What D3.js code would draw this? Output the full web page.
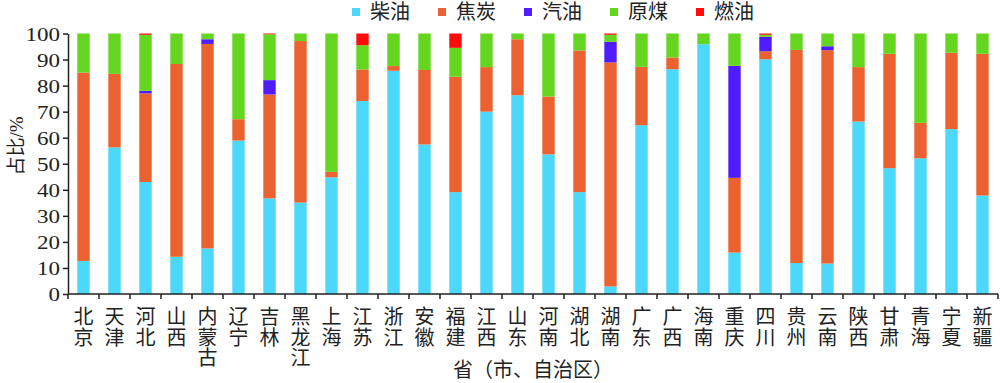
<!DOCTYPE html>
<html>
<head>
<meta charset="utf-8">
<script src="https://cdn.jsdelivr.net/npm/d3@7"></script>
<style>
  body { margin: 0; background: #fff; }
  svg text { font-family: "Liberation Serif", "Noto Sans CJK SC", serif; fill: #222; }
</style>
</head>
<body>
<svg id="chart" width="1000" height="383"></svg>
<script>
// provinces along the x axis
var provinces = ["北京", "天津", "河北", "山西", "内蒙古", "辽宁", "吉林", "黑龙江", "上海", "江苏",
	"浙江", "安徽", "福建", "江西", "山东", "河南", "湖北", "湖南", "广东", "广西",
	"海南", "重庆", "四川", "贵州", "云南", "陕西", "甘肃", "青海", "宁夏", "新疆"];

// share of each fuel, %
var chaiyou = [12.7, 56.3, 43.0, 14.3, 17.5, 58.9, 36.7, 35.1, 44.8, 74.1,
	85.7, 57.4, 39.1, 70.0, 76.3, 53.6, 39.1, 2.9, 64.8, 86.3,
	95.9, 15.9, 90.1, 11.9, 11.7, 66.2, 48.3, 52.1, 63.3, 37.8];
var jiaotan = [72.3, 28.2, 34.0, 74.0, 78.5, 8.2, 39.9, 62.0, 2.1, 12.1,
	1.8, 28.6, 44.3, 17.1, 21.5, 22.2, 54.4, 86.0, 22.4, 4.5,
	0, 28.7, 3.1, 81.8, 81.9, 20.9, 43.9, 13.6, 29.3, 54.4];
var qiyou = [0, 0, 1.0, 0, 1.8, 0, 5.5, 0, 0, 0,
	0, 0, 0, 0, 0, 0, 0, 7.9, 0, 0,
	0, 43.0, 5.5, 0, 1.5, 0, 0, 0, 0, 0];
var yuanmei = [15.0, 15.5, 21.5, 11.7, 2.2, 32.9, 17.6, 2.9, 53.1, 9.3,
	12.5, 14.0, 11.1, 12.9, 2.2, 24.2, 6.5, 2.7, 12.8, 9.2,
	4.1, 12.4, 0.8, 6.3, 4.9, 12.9, 7.8, 34.3, 7.4, 7.8];
var ranyou = [0, 0, 0.5, 0, 0, 0, 0.3, 0, 0, 4.5,
	0, 0, 5.5, 0, 0, 0, 0, 0.5, 0, 0,
	0, 0, 0.5, 0, 0, 0, 0, 0, 0, 0];

var seriesNames = ["柴油", "焦炭", "汽油", "原煤", "燃油"];
var seriesValues = [chaiyou, jiaotan, qiyou, yuanmei, ranyou];
var colors = ["#4cd8fb", "#eb612f", "#4f1cfd", "#64d61f", "#ff0b0b"];
var yTicks = [0, 10, 20, 30, 40, 50, 60, 70, 80, 90, 100];

var plotLeft = 68, plotRight = 998, plotTop = 33.5, plotBottom = 294;

var svg = d3.select("#chart");

// build a row per province for d3.stack
var rows = provinces.map(function(p, i) {
	var r = {name: p};
	seriesNames.forEach(function(s, j) { r[s] = seriesValues[j][i]; });
	return r;
});
var stacked = d3.stack().keys(seriesNames)(rows);

var x = d3.scaleBand()
	.domain(provinces)
	.range([plotLeft, plotRight])
	.paddingInner(0.6)
	.paddingOuter(0.3);
var y = d3.scaleLinear()
	.domain([0, 100])
	.range([plotBottom, plotTop]);

// bars
svg.append("g").selectAll("g")
	.data(stacked)
	.enter().append("g")
	.attr("fill", function(d, i) { return colors[i]; })
	.selectAll("rect")
	.data(function(d) { return d; })
	.enter().append("rect")
	.attr("x", function(d) { return x(d.data.name); })
	.attr("width", x.bandwidth())
	.attr("y", function(d) { return y(d[1]); })
	.attr("height", function(d) { return y(d[0]) - y(d[1]); });

// y axis
var yAxis = svg.append("g")
	.attr("transform", "translate(" + plotLeft + ",0)")
	.call(d3.axisLeft(y).tickValues(yTicks).tickSize(5).tickSizeOuter(0).tickPadding(3));
yAxis.selectAll("text")
	.style("font-size", "19px")
	.attr("dy", "0.35em")
	.attr("textLength", function(d) { return String(d).length * 11.5; })
	.attr("lengthAdjust", "spacingAndGlyphs");
yAxis.selectAll("path, line").attr("stroke", "#222").attr("stroke-width", 1.5);

// x axis: ticks at band edges
var xAxis = svg.append("g");
xAxis.append("line")
	.attr("x1", plotLeft).attr("x2", plotRight)
	.attr("y1", plotBottom).attr("y2", plotBottom)
	.attr("stroke", "#222").attr("stroke-width", 1.5);
var step = x.step();
xAxis.selectAll(".xt")
	.data(d3.range(provinces.length + 1))
	.enter().append("line")
	.attr("x1", function(i) { return plotLeft + i * step; })
	.attr("x2", function(i) { return plotLeft + i * step; })
	.attr("y1", plotBottom).attr("y2", plotBottom + 5)
	.attr("stroke", "#222").attr("stroke-width", 1.5);

// vertical province names, one character per line
xAxis.selectAll(".xl")
	.data(provinces)
	.enter().append("text")
	.attr("text-anchor", "middle")
	.style("font-size", "20px")
	.each(function(p) {
		var t = d3.select(this);
		var cx = x(p) + x.bandwidth() / 2;
		p.split("").forEach(function(ch, k) {
			t.append("tspan")
				.attr("x", cx)
				.attr("y", 317 + k * 20.5)
				.attr("dy", "0.36em")
				.text(ch);
		});
	});

// axis titles
svg.append("text")
	.attr("x", (plotLeft + plotRight) / 2)
	.attr("y", 370)
	.attr("dy", "0.36em")
	.attr("text-anchor", "middle")
	.style("font-size", "20px")
	.text("省（市、自治区）");

svg.append("text")
	.attr("transform", "translate(16," + 146 + ") rotate(-90)")
	.attr("dy", "0.36em")
	.attr("text-anchor", "middle")
	.style("font-size", "19px")
	.text("占比/%");

// legend
var legend = svg.append("g").selectAll("g")
	.data(seriesNames)
	.enter().append("g")
	.attr("transform", function(d, i) { return "translate(" + (352 + i * 86) + ",0)"; });
legend.append("rect")
	.attr("x", 0).attr("y", 8)
	.attr("width", 8).attr("height", 8)
	.attr("fill", function(d, i) { return colors[i]; });
legend.append("text")
	.attr("x", 18).attr("y", 12)
	.attr("dy", "0.36em")
	.style("font-size", "20px")
	.text(function(d) { return d; });
</script>
</body>
</html>
